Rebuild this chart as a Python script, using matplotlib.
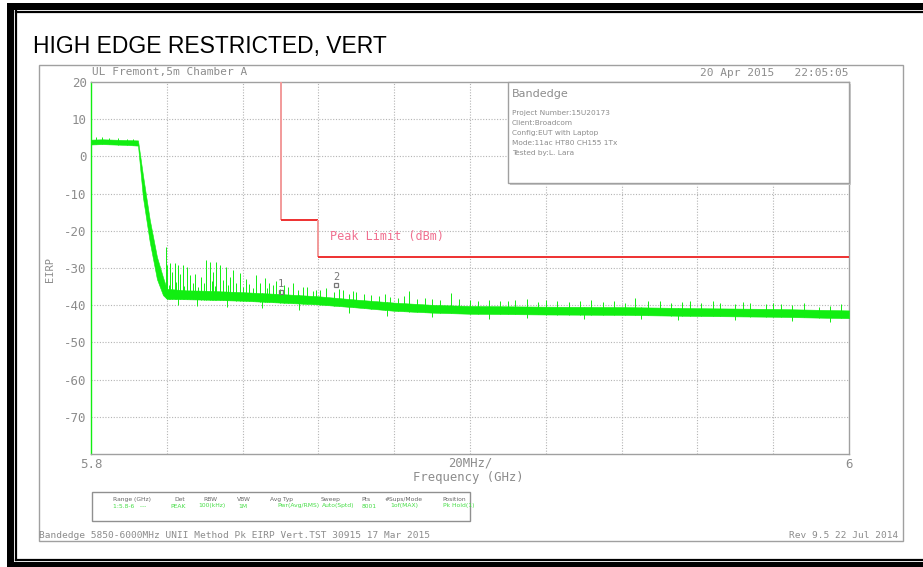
import matplotlib.pyplot as plt
import numpy as np
from matplotlib.patches import Rectangle

# trace (GHz, dBm): upper / lower edge of the noisy band
trace_freq = [5.800, 5.803, 5.806, 5.809, 5.8124, 5.8137, 5.8155, 5.8174, 5.8190, 5.8200,
              5.825, 5.830, 5.840, 5.850, 5.860, 5.870, 5.880, 5.890, 5.900, 5.920,
              5.940, 5.960, 5.980, 6.000]
trace_upper = [4.5, 4.6, 4.5, 4.4, 4.3, -5.0, -17.0, -27.0, -32.5, -35.6,
               -36.0, -36.1, -36.5, -37.0, -37.6, -38.5, -39.3, -39.9, -40.2, -40.4,
               -40.5, -40.8, -41.0, -41.4]
trace_lower = [3.2, 3.3, 3.2, 3.1, 2.9, -11.0, -23.0, -33.0, -37.3, -38.3,
               -38.4, -38.5, -38.8, -39.3, -39.8, -40.6, -41.5, -42.0, -42.3, -42.5,
               -42.6, -42.9, -43.1, -43.5]

# narrow spikes sticking up out of the band (GHz, peak dBm)
spike_freq = [5.8012, 5.8030, 5.8048, 5.8072, 5.8095, 5.8112,
              5.8197, 5.8201, 5.8208, 5.8215, 5.8221, 5.8230, 5.8236, 5.8243, 5.8252,
              5.8262, 5.8275, 5.8290, 5.8304, 5.8313, 5.8322, 5.8331, 5.8340, 5.8357,
              5.8366, 5.8375, 5.8392, 5.8410, 5.8436, 5.8458, 5.8470, 5.8489, 5.8510,
              5.8532, 5.8560, 5.8594, 5.8620, 5.8664, 5.8700, 5.8740, 5.8790, 5.8839,
              5.8880, 5.8950, 5.9000, 5.9080, 5.9150, 5.9230, 5.9320, 5.9436, 5.9500,
              5.9580, 5.9660, 5.9740, 5.9820, 5.9920,
              5.8205, 5.8225, 5.8245, 5.8268, 5.8283, 5.8297, 5.8318, 5.8327, 5.8348,
              5.8362, 5.8383, 5.8400, 5.8418, 5.8428, 5.8447, 5.8465, 5.8480, 5.8498,
              5.8520, 5.8545, 5.8570, 5.8585, 5.8605, 5.8640, 5.8655, 5.8680, 5.8690,
              5.8720, 5.8760, 5.8775, 5.8810, 5.8825, 5.8860, 5.8900, 5.8920, 5.8970,
              5.9020, 5.9050, 5.9100, 5.9120, 5.9180, 5.9200, 5.9260, 5.9290, 5.9350,
              5.9380, 5.9410, 5.9470, 5.9530, 5.9560, 5.9610, 5.9640, 5.9700, 5.9720,
              5.9780, 5.9800, 5.9850, 5.9880, 5.9950, 5.9980]
spike_top = [5.3, 5.1, 5.0, 4.9, 4.8, 4.7,
             -24.3, -29.2, -28.7, -31.0, -28.7, -29.2, -31.5, -29.2, -29.6,
             -32.0, -31.5, -32.5, -27.8, -28.3, -31.0, -28.3, -29.2, -29.6,
             -32.5, -30.5, -31.4, -33.0, -31.8, -32.7, -34.0, -33.6, -34.5,
             -34.0, -35.0, -35.8, -35.5, -35.8, -36.5, -37.2, -37.8, -36.2,
             -38.0, -36.7, -38.6, -38.8, -38.4, -38.9, -38.7, -38.1, -39.0,
             -39.0, -39.3, -39.5, -39.8, -40.4,
             -34.5, -33.8, -34.9, -33.9, -35.2, -34.1, -33.5, -34.8, -33.2,
             -34.6, -33.9, -35.1, -34.2, -35.4, -34.0, -35.3, -34.7, -35.6,
             -35.0, -35.9, -35.2, -36.3, -36.0, -36.4, -35.6, -36.9, -36.2,
             -37.1, -37.6, -36.9, -38.1, -37.5, -38.4, -38.2, -38.7, -38.3,
             -38.9, -38.5, -39.0, -38.6, -39.1, -38.7, -39.2, -38.8, -39.1,
             -38.9, -39.3, -39.0, -39.4, -39.1, -39.5, -39.0, -39.6, -39.2,
             -39.7, -39.3, -39.9, -39.5, -40.1, -39.8]

# short dips below the band (GHz, lowest dBm)
dip_freq = [5.823, 5.828, 5.836, 5.845, 5.855, 5.868, 5.878, 5.890, 5.905, 5.915,
            5.930, 5.945, 5.955, 5.970, 5.985, 5.995]
dip_bottom = [-40.0, -40.3, -40.5, -40.8, -41.2, -42.0, -42.8, -43.3, -43.6, -43.4,
              -43.7, -43.8, -44.0, -44.1, -44.3, -44.5]

# peak limit line
limit_freq = [5.85, 5.85, 5.86, 5.86, 6.00]
limit_dbm = [20, -17, -17, -27, -27]

# markers
marker_freq = [5.850, 5.8647]
marker_dbm = [-36.5, -34.6]
marker_name = ['1', '2']

y_ticks = [20, 10, 0, -10, -20, -30, -40, -50, -60, -70]
x_grid = [5.82, 5.84, 5.86, 5.88, 5.90, 5.92, 5.94, 5.96, 5.98]

info_lines = ['Project Number:15U20173', 'Client:Broadcom', 'Config:EUT with Laptop',
              'Mode:11ac HT80 CH155 1Tx', 'Tested by:L. Lara']
table_head = ['Range (GHz)', 'Det', 'RBW', 'VBW', 'Avg Typ', 'Sweep', 'Pts',
              '#Sups/Mode', 'Position']
table_vals = ['1:5.8-6   ---', 'PEAK', '100(kHz)', '1M', 'Pwr(Avg/RMS)', 'Auto(Sptd)',
              '8001', '1of(MAX)', 'Pk Hold(1)']

GREEN = '#11ee11'
GRAY = '#8c8c8c'
MONO = 'DejaVu Sans Mono'

W, H = 923, 567
fig = plt.figure(figsize=(W / 100, H / 100), dpi=100)
fig.patch.set_facecolor('white')

# plot area in pixels: x 91..849, y 82..454
ax = fig.add_axes([91 / W, 1 - 454 / H, 758 / W, 372 / H])
ax.set_xlim(5.8, 6.0)
ax.set_ylim(-80, 20)

for f in x_grid:
    ax.axvline(f, color='#b4b4b4', lw=0.8, ls=(0, (1, 1.5)), zorder=1)
for v in y_ticks[1:]:
    ax.axhline(v, color='#b4b4b4', lw=0.8, ls=(0, (1, 1.5)), zorder=1)

ax.fill_between(trace_freq, trace_lower, trace_upper, color=GREEN, lw=0.4, zorder=3)
base = np.interp(spike_freq, trace_freq, trace_lower)
ax.vlines(spike_freq, base, spike_top, color=GREEN, lw=0.7, zorder=3)
top = np.interp(dip_freq, trace_freq, trace_upper)
ax.vlines(dip_freq, dip_bottom, top, color=GREEN, lw=0.7, zorder=3)

# limit: horizontal runs bright red, the thin vertical steps look pinker
for i in range(len(limit_freq) - 1):
    f0, f1 = limit_freq[i], limit_freq[i + 1]
    c = '#f29a9a' if f0 == f1 else '#ee3030'
    ax.plot([f0, f1], [limit_dbm[i], limit_dbm[i + 1]], color=c, lw=1.4, zorder=4,
            solid_capstyle='butt')
ax.text(5.8630, -22.6, 'Peak Limit (dBm)', color='#f07090', fontsize=8.5,
        family=MONO, va='baseline', zorder=4)

ax.plot(marker_freq, marker_dbm, 's', ms=3.5, mfc='none', mec='#777777', mew=0.9, zorder=5)
for f, v, n in zip(marker_freq, marker_dbm, marker_name):
    ax.annotate(n, (f, v), xytext=(0, 3.5), textcoords='offset points', ha='center',
                va='baseline', fontsize=7.5, family=MONO, color='#777777', zorder=5)

ax.set_yticks(y_ticks)
ax.set_yticklabels([str(v) for v in y_ticks])
ax.set_xticks([5.8, 6.0])
ax.set_xticklabels(['5.8', '6'])
ax.tick_params(length=0, pad=3, labelsize=9, labelcolor=GRAY)
for lab in ax.get_xticklabels() + ax.get_yticklabels():
    lab.set_family(MONO)
for s in ax.spines.values():
    s.set_color('#a0a0a0')
    s.set_linewidth(1)
ax.spines['left'].set_color(GREEN)

# overlay in pixel coordinates for the page furniture
ov = fig.add_axes([0, 0, 1, 1], zorder=3)
ov.set_xlim(0, W)
ov.set_ylim(H, 0)
ov.axis('off')
ov.patch.set_alpha(0)

# black double border
ov.add_patch(Rectangle((7, 3), 7, H - 3, color='black', lw=0))
ov.add_patch(Rectangle((7, 3), W - 7, 6.5, color='black', lw=0))
ov.add_patch(Rectangle((7, 562), W - 7, 5, color='black', lw=0))
ov.plot([15.8, 15.8], [11, 560], color='black', lw=1.6)
ov.plot([15.8, W], [11.8, 11.8], color='black', lw=1.6)
ov.plot([15.8, W], [559.5, 559.5], color='black', lw=1.6)

# gray instrument frame
ov.add_patch(Rectangle((39, 65), 864, 476, fill=False, ec='#a0a0a0', lw=1))

ov.text(33, 53, 'HIGH EDGE RESTRICTED, VERT', fontsize=16.5, family='Liberation Sans',
        color='black', va='baseline')
ov.text(92, 75, 'UL Fremont,5m Chamber A', fontsize=8, family=MONO, color=GRAY, va='baseline')
ov.text(848, 76, '20 Apr 2015   22:05:05', fontsize=8, family=MONO, color=GRAY,
        va='baseline', ha='right')

# info box
ov.add_patch(Rectangle((510, 84), 341, 101, fc='#c8c8c8', ec='none'))
ov.add_patch(Rectangle((508, 82), 341, 101, fc='white', ec='#a0a0a0', lw=1))
ov.text(512, 97, 'Bandedge', fontsize=8, family='DejaVu Sans', color=GRAY, va='baseline')
for i, line in enumerate(info_lines):
    ov.text(512, 115 + 10 * i, line, fontsize=5.3, family='DejaVu Sans', color=GRAY,
            va='baseline')

ov.text(50, 270, 'EIRP', fontsize=7.5, family=MONO, color=GRAY, rotation=90,
        ha='center', va='center')
ov.text(470, 466, '20MHz/', fontsize=8.8, family=MONO, color=GRAY, ha='center', va='baseline')
ov.text(468, 481, 'Frequency (GHz)', fontsize=8.8, family=MONO, color=GRAY, ha='center',
        va='baseline')

# settings table
ov.add_patch(Rectangle((92, 492), 378, 29, fill=False, ec='#909090', lw=1))
head_x = [132, 180, 210, 244, 281, 331, 366, 404, 454]
vals_x = [130, 178, 212, 243, 298, 338, 369, 404, 459]
for x, t in zip(head_x, table_head):
    ov.text(x, 501, t, fontsize=4.3, family='DejaVu Sans', color='#666666', ha='center',
            va='baseline')
for x, t in zip(vals_x, table_vals):
    ov.text(x, 507.5, t, fontsize=4.3, family='DejaVu Sans', color='#44dd44', ha='center',
            va='baseline')

ov.text(39, 538, 'Bandedge 5850-6000MHz UNII Method Pk EIRP Vert.TST 30915 17 Mar 2015',
        fontsize=6.8, family=MONO, color=GRAY, va='baseline')
ov.text(898, 538, 'Rev 9.5 22 Jul 2014', fontsize=6.8, family=MONO, color=GRAY,
        ha='right', va='baseline')

fig.savefig('out.png', dpi=100)
